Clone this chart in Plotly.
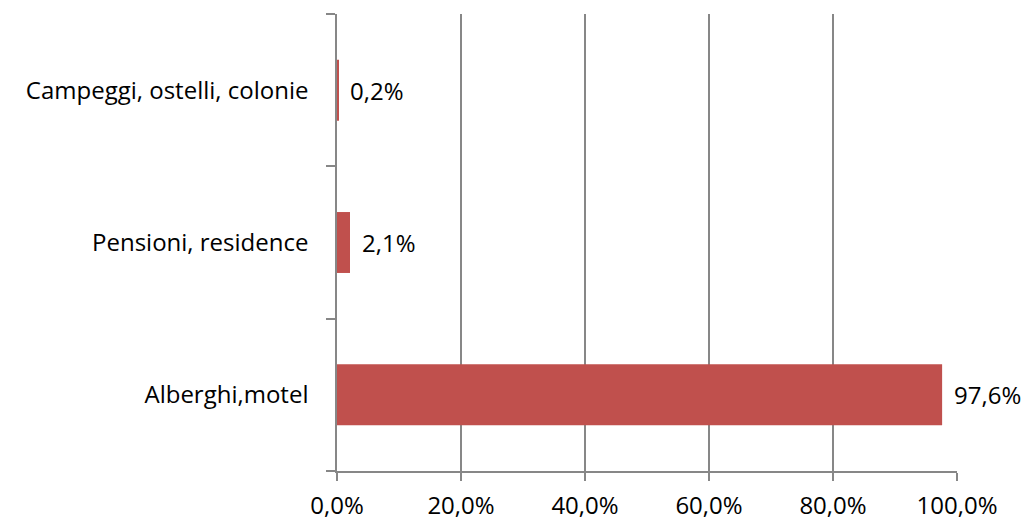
import plotly.graph_objects as go

categories = ["Alberghi,motel", "Pensioni, residence", "Campeggi, ostelli, colonie"]
values = [97.6, 2.1, 0.2]
x_ticks = [0, 20, 40, 60, 80, 100]
x_tick_labels = ["0,0%", "20,0%", "40,0%", "60,0%", "80,0%", "100,0%"]

BAR = "#C0504D"
GRID = "#878787"
FONT = "Open Sans, Calibri, sans-serif"
FS = 24

fig = go.Figure()
fig.add_trace(go.Bar(
    y=categories, x=values, orientation="h",
    marker=dict(color=BAR, line=dict(width=0)),
    width=0.4,
    hoverinfo="skip",
))

for c, v in zip(categories, values):
    fig.add_annotation(
        x=v, y=c, xref="x", yref="y",
        text=f"{v:.1f}%".replace(".", ","),
        showarrow=False, xanchor="left", yanchor="middle",
        xshift=10, font=dict(size=FS, color="#000000", family=FONT),
    )

fig.update_layout(
    width=1026, height=520,
    margin=dict(l=337, r=69, t=14, b=49),
    paper_bgcolor="white", plot_bgcolor="white",
    showlegend=False,
    font=dict(family=FONT, size=FS, color="#000000"),
    bargap=0.6,
)
fig.update_xaxes(
    range=[0, 100], tickvals=x_ticks, ticktext=x_tick_labels,
    showgrid=True, gridcolor=GRID, gridwidth=1.5,
    showline=True, linecolor=GRID, linewidth=1.5,
    ticks="outside", ticklen=8, tickcolor=GRID, tickwidth=1.5,
    zeroline=False, tickfont=dict(size=FS, family=FONT),
    ticklabelstandoff=4, automargin=False,
)
fig.update_yaxes(
    type="category", categoryorder="array", categoryarray=categories,
    showgrid=False, showline=True, linecolor=GRID, linewidth=1.5,
    ticks="outside", ticklen=9, tickcolor=GRID, tickwidth=1.5,
    tickson="boundaries", tickfont=dict(size=FS, family=FONT),
    ticklabelstandoff=22, automargin=False,
)

fig.write_html("out.html")
